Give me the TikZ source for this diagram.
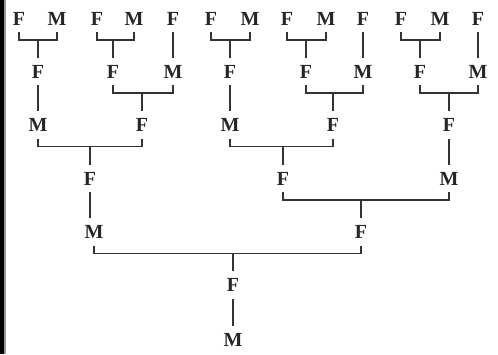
\documentclass[tikz,border=0pt]{standalone}
\usepackage{fontspec}
\setmainfont{Liberation Serif}
\usetikzlibrary{calc}
\begin{document}
\begin{tikzpicture}[x=1pt,y=-1pt,
  lt/.style={inner xsep=0pt, inner ysep=7pt, text height=13.5pt, text depth=0pt,
    font=\fontsize{20}{20}\selectfont\bfseries, text=black!85},
  ln/.style={line width=1.7pt, draw=black!80}]
\useasboundingbox (0,0) rectangle (498,354);
\fill[black] (0,0) rectangle (4,354);
\fill[black!40] (4,0) rectangle (5.5,354);
% row 1
\foreach \n/\x/\t in {a1/19/F,a2/57/M,a3/97/F,a4/134/M,a5/173/F,a6/211/F,a7/250/M,a8/287/F,a9/326/M,a10/363/F,a11/401/F,a12/440/M,a13/478/F}
  \node[lt] (\n) at (\x,18.5) {\t};
% row 2
\foreach \n/\x/\t in {b1/38/F,b2/113/F,b3/173/M,b4/230/F,b5/306/F,b6/363/M,b7/420/F,b8/478/M}
  \node[lt] (\n) at (\x,71.5) {\t};
% row 3
\foreach \n/\x/\t in {c1/38/M,c2/142/F,c3/230/M,c4/333/F,c5/449/F}
  \node[lt] (\n) at (\x,125) {\t};
% row 4
\foreach \n/\x/\t in {d1/90/F,d2/283/F,d3/449/M}
  \node[lt] (\n) at (\x,178.5) {\t};
% row 5
\foreach \n/\x/\t in {e1/94/M,e2/361/F}
  \node[lt] (\n) at (\x,232) {\t};
\node[lt] (f1) at (233,285) {F};
\node[lt] (g1) at (233,340) {M};
% brackets
\foreach \l/\r/\c in {a1/a2/b1,a3/a4/b2,a6/a7/b4,a8/a9/b5,a11/a12/b7,b2/b3/c2,b5/b6/c4,b7/b8/c5,c1/c2/d1,c3/c4/d2,d2/d3/e2,e1/e2/f1}{
  \coordinate (\l-bl) at ([yshift=-7.5pt]\l.south);
  \coordinate (\l-br) at (\l-bl -| \r.south);
  \draw[ln] (\l.south) -- (\l-bl) -- (\l-br) -- (\r.south);
  \draw[ln] (\l-bl -| \c.north) -- (\c.north);
}
% single lines
\foreach \u/\d in {a5/b3,a10/b6,a13/b8,b1/c1,b4/c3,c5/d3,f1/g1}
  \draw[ln] (\u.south) -- (\d.north);
\draw[ln] (d1.south) -- (d1.south |- e1.north);
\end{tikzpicture}
\end{document}
